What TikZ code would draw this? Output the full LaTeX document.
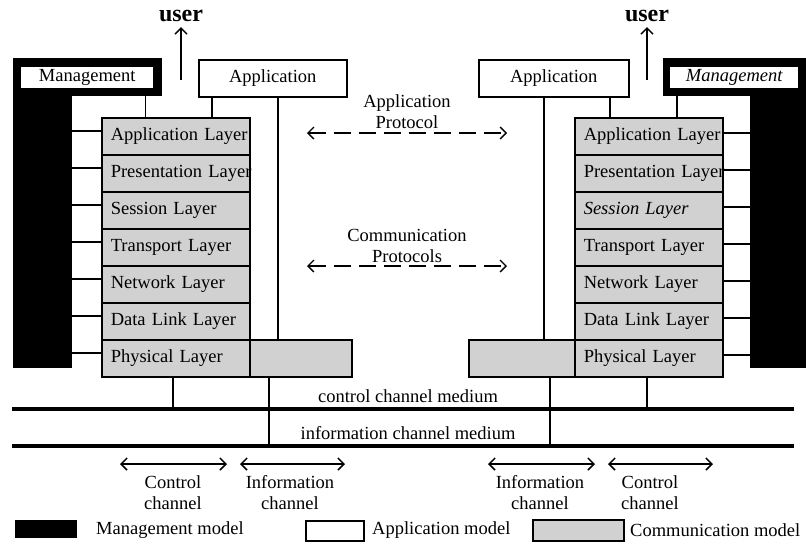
\documentclass[tikz,border=0pt]{standalone}
\usepackage{fontspec}
\setmainfont{Liberation Serif}
\usetikzlibrary{arrows.meta}
\definecolor{dotgray}{gray}{0.82}

\tikzset{
  layer/.style={draw, line width=1.5pt, fill=dotgray, anchor=north west, text width=130pt,
    inner xsep=9pt, inner ysep=0pt, minimum height=37pt, align=left,
    font=\fontsize{18.5}{20}\selectfont},
  extbox/.style={draw, line width=1.5pt, fill=dotgray, anchor=north west, minimum height=37pt, inner sep=0pt},
  appbox/.style={draw, line width=1.5pt, fill=white, anchor=north west, minimum height=37pt,
    inner sep=0pt, font=\fontsize{18.5}{20}\selectfont},
  mgmt/.style={fill=black, anchor=north west, inner sep=0pt},
  mlabel/.style={fill=white, anchor=north west, inner sep=0pt, minimum height=21pt,
    font=\fontsize{18.5}{20}\selectfont},
  wire/.style={line width=1.5pt},
  medium/.style={line width=3.5pt},
  txt/.style={font=\fontsize{18.5}{21}\selectfont, align=center, inner sep=0pt},
  usertxt/.style={font=\fontsize{24}{26}\selectfont\bfseries, inner sep=0pt},
  proto/.style={line width=1.3pt, dash pattern=on 17pt off 8pt,
    {Straight Barb[length=6pt, width=12pt]}-{Straight Barb[length=6pt, width=12pt]}},
  chan/.style={line width=1.5pt,
    {Straight Barb[length=6pt, width=12pt]}-{Straight Barb[length=6pt, width=12pt]}},
}

\begin{document}
\begin{tikzpicture}[x=1pt, y=-1pt]
  \useasboundingbox (0,0) rectangle (806,555);

  % management blocks
  \node[mgmt, minimum width=149pt, minimum height=38pt] (lband) at (13,58) {};
  \node[mgmt, minimum width=59pt, minimum height=310pt] (lbar) at (13,58) {};
  \node[mlabel, minimum width=132pt] (lmgmt) at (21,67) {Management};
  \node[mgmt, minimum width=143pt, minimum height=38pt] (rband) at (663,58) {};
  \node[mgmt, minimum width=56pt, minimum height=310pt] (rbar) at (750,58) {};
  \node[mlabel, minimum width=128pt] (rmgmt) at (670,67) {\itshape Management};

  % application boxes
  \node[appbox, minimum width=148pt] (lappl) at (198,59) {Application};
  \node[appbox, minimum width=150pt] (rappl) at (478,59) {Application};

  % physical layer extensions
  \node[extbox, minimum width=102pt] (lext) at (249,339) {};
  \node[extbox, minimum width=106pt] (rext) at (468,339) {};

  % the two layer stacks
  \foreach \i/\lname/\rname in {1/Application Layer/Application Layer,
      2/Presentation Layer/Presentation Layer, 3/Session Layer/\itshape Session Layer,
      4/Transport Layer/Transport Layer, 5/Network Layer/Network Layer,
      6/Data Link Layer/Data Link Layer, 7/Physical Layer/Physical Layer} {
    \node[layer] (l\i) at (101,{117+37*(\i-1)}) {\mbox{\lname}};
    \node[layer] (r\i) at (574,{117+37*(\i-1)}) {\mbox{\rname}};
  }

  % management to layers
  \foreach \i in {1,...,7} {
    \draw[wire] ([yshift=-14pt]l\i.north west) -- ([yshift=-14pt]l\i.north west -| lbar.east);
    \draw[wire] ([yshift=-16pt]r\i.north east) -- ([yshift=-16pt]r\i.north east -| rbar.west);
  }
  \draw[wire] ([xshift=-17pt]lband.south east) -- ([xshift=-17pt]lband.south east |- l1.north);
  \draw[wire] ([xshift=14pt]rband.south west) -- ([xshift=14pt]rband.south west |- r1.north);

  % application to layers
  \draw[wire] ([xshift=14pt]lappl.south west) -- ([xshift=14pt]lappl.south west |- l1.north);
  \draw[wire] ([xshift=80pt]lappl.south west) -- ([xshift=80pt]lappl.south west |- lext.north);
  \draw[wire] ([xshift=132pt]rappl.south west) -- ([xshift=132pt]rappl.south west |- r1.north);
  \draw[wire] ([xshift=66pt]rappl.south west) -- ([xshift=66pt]rappl.south west |- rext.north);

  % users
  \node[usertxt] (luser) at (181,16) {user};
  \node[usertxt] (ruser) at (647,16) {user};
  \coordinate (lfoot) at (181,80);
  \coordinate (rfoot) at (647,80);
  \draw[wire, -{Straight Barb[length=6pt, width=12pt]}, shorten >=5pt] (lfoot) -- (luser.south);
  \draw[wire, -{Straight Barb[length=6pt, width=12pt]}, shorten >=5pt] (rfoot) -- (ruser.south);

  % protocols
  \node[txt] (aproto) at (407,112) {Application\\Protocol};
  \node[txt] (cproto) at (407,246) {Communication\\Protocols};
  \coordinate (apw) at (307,133);
  \coordinate (ape) at (507,133);
  \coordinate (cpw) at (307,266);
  \coordinate (cpe) at (507,266);
  \draw[proto] (apw) -- (ape);
  \draw[proto] (cpw) -- (cpe);

  % channel media
  \coordinate (ctlw) at (12,409);
  \coordinate (ctle) at (794,409);
  \coordinate (infw) at (12,446);
  \coordinate (infe) at (794,446);
  \draw[wire] ([xshift=72pt]l7.south west) -- ([xshift=72pt]l7.south west |- ctlw);
  \draw[wire] ([xshift=20pt]lext.south west) -- ([xshift=20pt]lext.south west |- infw);
  \draw[wire] ([xshift=82pt]rext.south west) -- ([xshift=82pt]rext.south west |- infw);
  \draw[wire] ([xshift=73pt]r7.south west) -- ([xshift=73pt]r7.south west |- ctlw);
  \draw[medium] (ctlw) -- (ctle);
  \draw[medium] (infw) -- (infe);
  \node[txt] (ctltxt) at (408,396) {control channel medium};
  \node[txt] (inftxt) at (408,433) {information channel medium};

  % channel arrows
  \foreach \n/\a/\b in {lc/120/227, li/240/345, ri/488/595, rc/608/713} {
    \coordinate (\n w) at (\a,464);
    \coordinate (\n e) at (\b,464);
    \draw[chan] (\n w) -- (\n e);
  }
  \node[txt] (lctl) at (173,493) {Control\\channel};
  \node[txt] (linf) at (290,493) {Information\\channel};
  \node[txt] (rinf) at (540,493) {Information\\channel};
  \node[txt] (rctl) at (650,493) {Control\\channel};

  % legend
  \node[mgmt, minimum width=62pt, minimum height=18pt] (kmgmt) at (15,520) {};
  \node[txt, anchor=west] (kmgmttxt) at (96,530) {Management model};
  \node[draw, line width=1.5pt, anchor=north west, minimum width=58pt, minimum height=20pt] (kappl) at (305,520) {};
  \node[txt, anchor=west] (kappltxt) at (372,530) {Application model};
  \node[extbox, line width=2pt, minimum width=91pt, minimum height=21pt] (kcomm) at (532,519) {};
  \node[txt, anchor=west] (kcommtxt) at (630,530) {Communication model};
\end{tikzpicture}
\end{document}
